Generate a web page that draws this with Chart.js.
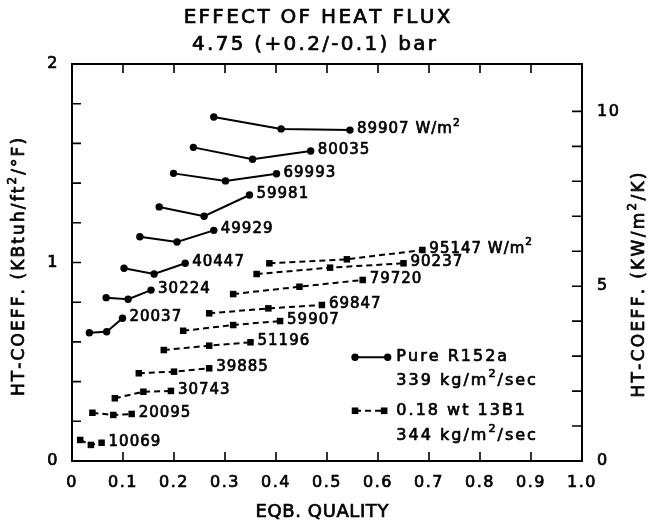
<!DOCTYPE html>
<html lang="en">
<head>
<meta charset="UTF-8">
<title>Effect of Heat Flux</title>
<script src="https://cdn.jsdelivr.net/npm/chart.js"></script>
<style>
  html, body { margin: 0; padding: 0; background: #fff; }
  canvas { display: block; }
</style>
</head>
<body>
<canvas id="chart" width="650" height="525"></canvas>
<script>
// Pure R152a, 339 kg/m2/sec (solid lines, circles)
const pureLabels = ['89907 W/m^2', '80035', '69993', '59981', '49929', '40447', '30224', '20037'];
const pureX = [
  [0.278, 0.410, 0.545],
  [0.238, 0.354, 0.468],
  [0.199, 0.301, 0.401],
  [0.171, 0.259, 0.348],
  [0.133, 0.206, 0.278],
  [0.102, 0.161, 0.222],
  [0.067, 0.110, 0.155],
  [0.034, 0.068, 0.099]
];
const pureH = [
  [1.733, 1.673, 1.667],
  [1.580, 1.520, 1.562],
  [1.449, 1.411, 1.447],
  [1.280, 1.233, 1.340],
  [1.130, 1.103, 1.162],
  [0.971, 0.942, 0.996],
  [0.823, 0.815, 0.861],
  [0.646, 0.651, 0.719]
];

// 0.18 wt 13B1, 344 kg/m2/sec (dashed lines, squares)
const mixLabels = ['95147 W/m^2', '90237', '79720', '69847', '59907', '51196', '39885', '30743', '20095', '10069'];
const mixX = [
  [0.387, 0.539, 0.687],
  [0.362, 0.506, 0.650],
  [0.316, 0.446, 0.570],
  [0.269, 0.385, 0.490],
  [0.218, 0.316, 0.408],
  [0.180, 0.269, 0.350],
  [0.131, 0.200, 0.269],
  [0.084, 0.140, 0.194],
  [0.040, 0.081, 0.117],
  [0.016, 0.037, 0.058]
];
const mixH = [
  [0.996, 1.016, 1.063],
  [0.942, 0.974, 0.996],
  [0.841, 0.878, 0.912],
  [0.744, 0.769, 0.786],
  [0.656, 0.685, 0.705],
  [0.559, 0.581, 0.598],
  [0.442, 0.450, 0.467],
  [0.316, 0.349, 0.353],
  [0.243, 0.232, 0.237],
  [0.106, 0.081, 0.092]
];

// axis ranges and labelled ticks
const xRange = [0, 1];
const leftRange = [0, 2];
const KW_PER_KBTU = 5.678;  // KBtuh/ft2/F -> KW/m2/K
const leftTickLabels = [0, 1, 2];
const rightTickLabels = [0, 5, 10];

const FONT = 'DejaVu Sans';
const INK = 0.7;  // stroke around glyphs, gives the scanned medium weight

function makeSet(xs, ys, dashed) {
  return {
    data: xs.map((x, i) => ({ x: x, y: ys[i] })),
    borderColor: '#000',
    backgroundColor: '#000',
    borderWidth: 2,
    borderDash: dashed ? [6, 4] : [],
    pointStyle: dashed ? 'rect' : 'circle',
    pointRadius: dashed ? 4.6 : 3.7,
    pointBorderWidth: 0,
    tension: 0,
    xAxisID: 'x',
    yAxisID: 'y'
  };
}

const datasets = [];
pureX.forEach((xs, i) => datasets.push(Object.assign(makeSet(xs, pureH[i], false), { label: pureLabels[i] })));
mixX.forEach((xs, i) => datasets.push(Object.assign(makeSet(xs, mixH[i], true), { label: mixLabels[i] })));

// text with "^x" superscripts and letter spacing
function fontFor(size) {
  return size + 'px "' + FONT + '"';
}
function richWidth(ctx, text, size, spacing) {
  let w = 0;
  for (let i = 0; i < text.length; i++) {
    let ch = text[i], sup = false;
    if (ch === '^') { ch = text[++i]; sup = true; }
    ctx.font = fontFor(sup ? size * 0.7 : size);
    w += ctx.measureText(ch).width + spacing;
  }
  return w - spacing;
}
function drawRich(ctx, text, x, y, size, spacing, align) {
  ctx.save();
  ctx.letterSpacing = '0px';
  ctx.textBaseline = 'middle';
  ctx.textAlign = 'left';
  ctx.fillStyle = '#000';
  ctx.strokeStyle = '#000';
  ctx.lineWidth = INK;
  ctx.lineJoin = 'round';
  if (align === 'center') x -= richWidth(ctx, text, size, spacing) / 2;
  for (let i = 0; i < text.length; i++) {
    let ch = text[i], sup = false;
    if (ch === '^') { ch = text[++i]; sup = true; }
    ctx.font = fontFor(sup ? size * 0.7 : size);
    const yy = sup ? y - size * 0.42 : y;
    ctx.fillText(ch, x, yy);
    ctx.strokeText(ch, x, yy);
    x += ctx.measureText(ch).width + spacing;
  }
  ctx.restore();
}

const decorate = {
  id: 'decorate',
  beforeDraw(chart) {
    const ctx = chart.ctx;
    ctx.save();
    ctx.fillStyle = '#fff';
    ctx.fillRect(0, 0, chart.width, chart.height);
    ctx.restore();
    ctx.letterSpacing = '1.5px';
  },
  afterDatasetsDraw(chart) {
    const ctx = chart.ctx;
    const { left, right, top, bottom } = chart.chartArea;
    const sx = chart.scales.x, sy = chart.scales.y, sy2 = chart.scales.y2;
    ctx.letterSpacing = '0px';

    // frame and inward tick marks
    ctx.save();
    ctx.strokeStyle = '#000';
    ctx.lineWidth = 2;
    ctx.setLineDash([]);
    ctx.strokeRect(left, top, right - left, bottom - top);
    ctx.lineWidth = 1.6;
    ctx.beginPath();
    sx.ticks.forEach(t => {
      if (t.value <= xRange[0] || t.value >= xRange[1]) return;
      const p = sx.getPixelForValue(t.value);
      ctx.moveTo(p, bottom); ctx.lineTo(p, bottom - 9);
      ctx.moveTo(p, top); ctx.lineTo(p, top + 9);
    });
    sy.ticks.forEach(t => {
      if (t.value <= leftRange[0] || t.value >= leftRange[1] - 1e-6) return;
      const p = sy.getPixelForValue(t.value);
      ctx.moveTo(left, p); ctx.lineTo(left + 9, p);
    });
    sy2.ticks.forEach(t => {
      if (t.value <= 0 || Math.abs(t.value - Math.round(t.value)) > 1e-6) return;
      const p = sy2.getPixelForValue(t.value);
      ctx.moveTo(right, p); ctx.lineTo(right - 10, p);
    });
    ctx.stroke();
    ctx.restore();

    // flux labels at the end of each curve
    chart.data.datasets.forEach((ds, i) => {
      const pts = chart.getDatasetMeta(i).data;
      const last = pts[pts.length - 1];
      drawRich(ctx, ds.label, last.x + 7, last.y - 1, 15, 1, 'left');
    });

    // legend, placed in data units
    const lx0 = sx.getPixelForValue(0.555), lx1 = sx.getPixelForValue(0.619);
    const lx2 = sx.getPixelForValue(0.612);
    const tx = sx.getPixelForValue(0.636);
    const ly1 = sy.getPixelForValue(0.523), ly2 = sy.getPixelForValue(0.253);
    ctx.save();
    ctx.strokeStyle = '#000';
    ctx.fillStyle = '#000';
    ctx.lineWidth = 2;
    ctx.beginPath(); ctx.moveTo(lx0, ly1); ctx.lineTo(lx1, ly1); ctx.stroke();
    [lx0, lx1].forEach(px => { ctx.beginPath(); ctx.arc(px, ly1, 3.7, 0, Math.PI * 2); ctx.fill(); });
    ctx.setLineDash([6, 4]);
    ctx.beginPath(); ctx.moveTo(lx0, ly2); ctx.lineTo(lx2, ly2); ctx.stroke();
    ctx.setLineDash([]);
    [lx0, lx2].forEach(px => ctx.fillRect(px - 3.3, ly2 - 3.3, 6.6, 6.6));
    ctx.restore();
    drawRich(ctx, 'Pure R152a', tx, ly1, 16, 2, 'left');
    drawRich(ctx, '339 kg/m^2/sec', tx, ly1 + 24, 16, 2, 'left');
    drawRich(ctx, '0.18 wt 13B1', tx, ly2, 16, 2, 'left');
    drawRich(ctx, '344 kg/m^2/sec', tx, ly2 + 25, 16, 2, 'left');

    // titles
    drawRich(ctx, 'EFFECT OF HEAT FLUX', 317, 18, 20, 2.3, 'center');
    drawRich(ctx, '4.75 (+0.2/-0.1) bar', 314, 45, 20, 2.3, 'center');
    drawRich(ctx, 'EQB. QUALITY', 322, 512, 18, 0.6, 'center');

    ctx.save();
    ctx.translate(20, 267);
    ctx.rotate(-Math.PI / 2);
    drawRich(ctx, 'HT-COEFF. (KBtuh/ft^2/\u00B0F)', 0, 0, 17, 2.1, 'center');
    ctx.restore();

    ctx.save();
    ctx.translate(640, 285);
    ctx.rotate(-Math.PI / 2);
    drawRich(ctx, 'HT-COEFF. (KW/m^2/K)', 0, 0, 17, 2.3, 'center');
    ctx.restore();
  }
};

const tickFont = { family: FONT, size: 16 };

function tickOpts(extra) {
  return Object.assign({
    autoSkip: false,
    color: '#000',
    font: tickFont,
    textStrokeColor: '#000',
    textStrokeWidth: INK
  }, extra);
}

new Chart(document.getElementById('chart'), {
  type: 'line',
  data: { datasets: datasets },
  options: {
    responsive: false,
    animation: false,
    events: [],
    layout: { padding: { top: 64, left: 0, right: 0, bottom: 0 } },
    plugins: {
      legend: { display: false },
      tooltip: { enabled: false },
      title: { display: false }
    },
    scales: {
      x: {
        type: 'linear',
        min: xRange[0],
        max: xRange[1],
        afterFit(s) { s.height = 64; },
        grid: { display: false, drawTicks: false },
        border: { display: false },
        ticks: tickOpts({
          stepSize: 0.1,
          maxRotation: 0,
          padding: 12,
          callback: v => (Math.abs(v) < 1e-9 ? '0' : v.toFixed(1))
        })
      },
      y: {
        type: 'linear',
        position: 'left',
        min: leftRange[0],
        max: leftRange[1],
        afterFit(s) { s.width = 72; },
        grid: { display: false, drawTicks: false },
        border: { display: false },
        ticks: tickOpts({
          stepSize: 0.2,
          padding: 13,
          callback: v => {
            const r = Math.round(v);
            return Math.abs(v - r) < 1e-6 && leftTickLabels.includes(r) ? String(r) : '';
          }
        })
      },
      y2: {
        type: 'linear',
        position: 'right',
        min: leftRange[0] * KW_PER_KBTU,
        max: leftRange[1] * KW_PER_KBTU,
        afterFit(s) { s.width = 68; },
        grid: { display: false, drawTicks: false },
        border: { display: false },
        ticks: tickOpts({
          stepSize: 1,
          padding: 15,
          callback: v => {
            const r = Math.round(v);
            return Math.abs(v - r) < 1e-6 && rightTickLabels.includes(r) ? String(r) : '';
          }
        })
      }
    }
  },
  plugins: [decorate]
});
</script>
</body>
</html>
